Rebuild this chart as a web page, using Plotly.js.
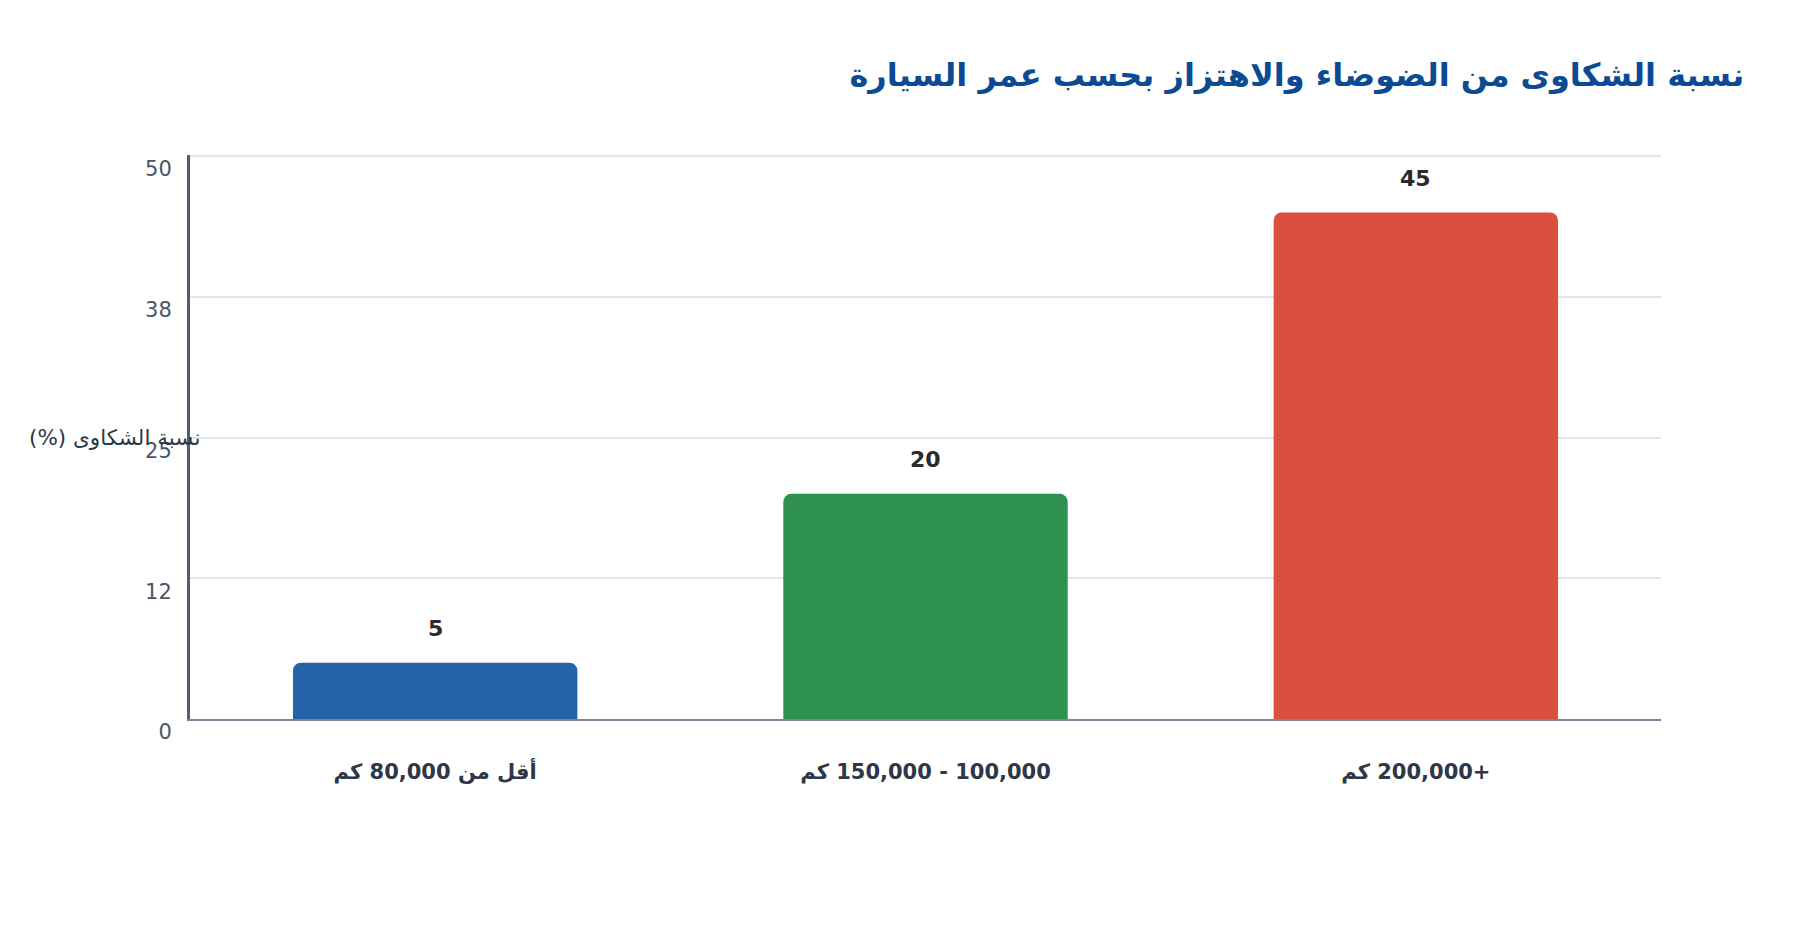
<!DOCTYPE html>
<html>
<head>
<meta charset="utf-8">
<script src="https://cdn.plot.ly/plotly-3.0.1.min.js"></script>
<style>
  html, body { margin: 0; padding: 0; background: #ffffff; }
  #chart { width: 1800px; height: 940px; }
</style>
</head>
<body>
<div id="chart"></div>
<script>
// RTL embedding so mixed Arabic / number labels order like the source
const rtl = s => '\u202B' + s + '\u202C';

const categories = ['أقل من 80,000 كم', '100,000 - 150,000 كم', '+200,000 كم'];
const complaintPct = [5, 20, 45];
const barColors = ['#2563a8', '#2e9150', '#db4f3f'];
const yTickVals = [0, 12.5, 25, 37.5, 50];
const yTickText = ['0', '12', '25', '38', '50'];

const chartTitle = 'نسبة الشكاوى من الضوضاء والاهتزاز بحسب عمر السيارة';
const yTitle = 'نسبة الشكاوى (%)';

const catLabels = categories.map(rtl);

const barTrace = {
    type: 'bar',
    x: catLabels,
    y: complaintPct,
    marker: { color: barColors, cornerradius: 8 },
    hoverinfo: 'none'
};

// value labels sit well above each bar
const valueNotes = complaintPct.map((v, i) => ({
    x: catLabels[i],
    y: v,
    xref: 'x',
    yref: 'y',
    text: String(v),
    showarrow: false,
    yanchor: 'middle',
    yshift: 34,
    font: { family: 'DejaVu Sans', size: 22, color: '#2b2b2b', weight: 'bold' }
}));

const layout = {
    width: 1800,
    height: 940,
    paper_bgcolor: '#ffffff',
    plot_bgcolor: '#ffffff',
    margin: { t: 155, r: 139, l: 190, b: 221 },
    bargap: 0.42,
    showlegend: false,
    title: {
        text: rtl(chartTitle),
        xref: 'container',
        yref: 'container',
        x: 0.969,
        xanchor: 'right',
        y: 0.92,
        yanchor: 'middle',
        font: { family: 'DejaVu Sans', size: 32, color: '#0d4a94', weight: 'bold' }
    },
    xaxis: {
        type: 'category',
        showline: true,
        linecolor: '#7a8494',
        linewidth: 2,
        showgrid: false,
        ticks: '',
        ticklabelstandoff: 33,
        tickfont: { family: 'DejaVu Sans', size: 21, color: '#2d3748', weight: 'bold' },
        fixedrange: true
    },
    yaxis: {
        range: [0, 50.1],
        tickmode: 'array',
        tickvals: yTickVals,
        ticktext: yTickText,
        showline: true,
        linecolor: '#525d6e',
        linewidth: 3,
        showgrid: true,
        gridcolor: '#e2e6ea',
        gridwidth: 2,
        zeroline: false,
        ticks: '',
        ticklabelstandoff: 11,
        ticklabelshift: 13,
        tickfont: { family: 'DejaVu Sans', size: 21, color: '#4a5568' },
        fixedrange: true
    },
    annotations: valueNotes.concat([{
        xref: 'paper',
        yref: 'y',
        x: 0,
        y: 25,
        xanchor: 'right',
        yanchor: 'middle',
        xshift: 12,
        text: rtl(yTitle),
        showarrow: false,
        font: { family: 'DejaVu Sans', size: 21.5, color: '#2d3748' }
    }])
};

Plotly.newPlot('chart', [barTrace], layout, { displayModeBar: false, staticPlot: true });
</script>
</body>
</html>
